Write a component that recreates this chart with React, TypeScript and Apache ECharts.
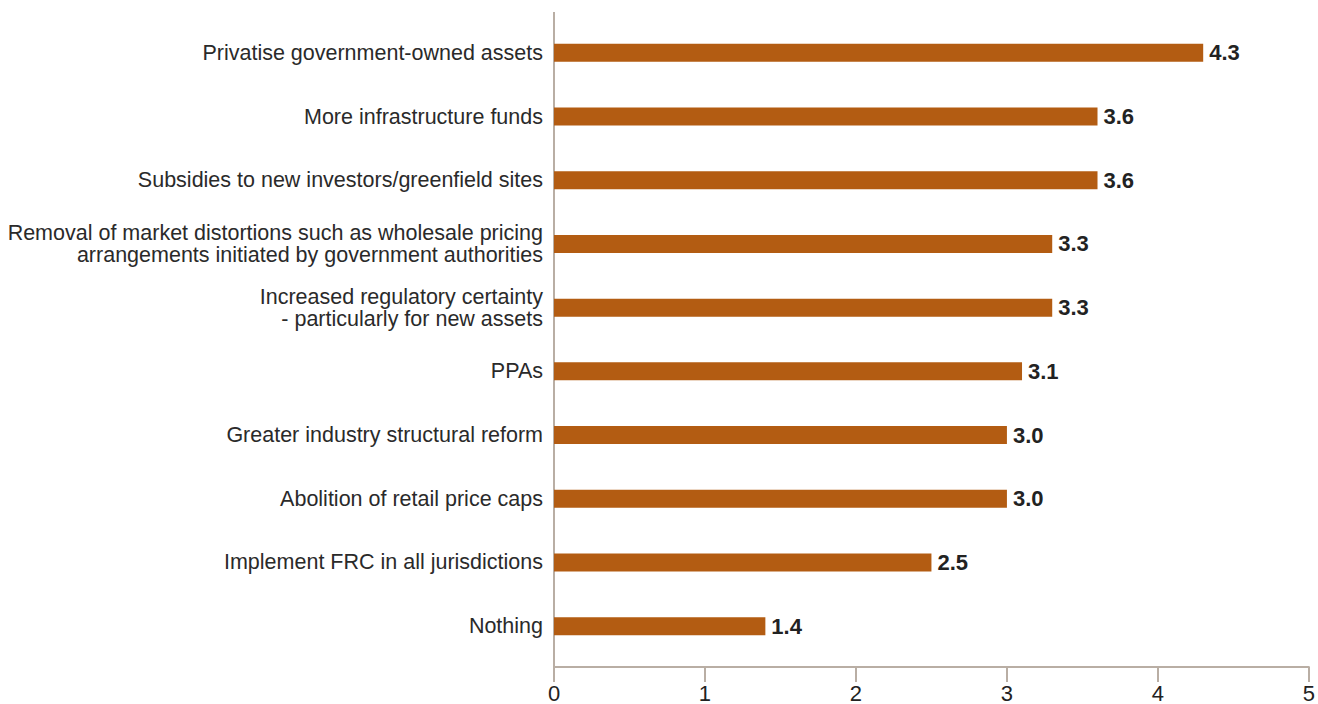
import React, { useEffect, useRef } from "react";
import * as echarts from "echarts";

const categories = [
  "Privatise government-owned assets",
  "More infrastructure funds",
  "Subsidies to new investors/greenfield sites",
  "Removal of market distortions such as wholesale pricing\narrangements initiated by government authorities",
  "Increased regulatory certainty\n- particularly for new assets",
  "PPAs",
  "Greater industry structural reform",
  "Abolition of retail price caps",
  "Implement FRC in all jurisdictions",
  "Nothing",
];
const values = [4.3, 3.6, 3.6, 3.3, 3.3, 3.1, 3.0, 3.0, 2.5, 1.4];
const xTicks = [0, 1, 2, 3, 4, 5];

const AXIS_COLOR = "#b9aea4";
const BAR_COLOR = "#b35c12";
const FONT = "'Liberation Sans', Arial, Helvetica, sans-serif";

export default function App() {
  const ref = useRef<HTMLDivElement>(null);
  useEffect(() => {
    if (!ref.current) return;
    const chart = echarts.init(ref.current, null, { renderer: "svg" });
    chart.setOption({
      animation: false,
      grid: { left: 554, right: 9, top: 21, bottom: 46 },
      xAxis: {
        type: "value",
        min: xTicks[0],
        max: xTicks[xTicks.length - 1],
        interval: 1,
        offset: 9,
        axisLine: { show: true, lineStyle: { color: AXIS_COLOR, width: 2 } },
        axisTick: { show: true, length: 15, lineStyle: { color: AXIS_COLOR, width: 2 } },
        axisLabel: { color: "#222", fontSize: 22, fontFamily: FONT, margin: 15 },
        splitLine: { show: false },
      },
      yAxis: {
        type: "category",
        inverse: true,
        data: categories,
        axisLine: { show: false },
        axisTick: { show: false },
        axisLabel: {
          color: "#2a2a2a",
          fontSize: 21.5,
          fontFamily: FONT,
          margin: 11,
          lineHeight: 22,
          align: "right",
        },
      },
      graphic: [
        {
          type: "line",
          shape: { x1: 554, y1: 12, x2: 554, y2: 667 },
          style: { stroke: AXIS_COLOR, lineWidth: 2 },
        },
      ],
      series: [
        {
          type: "bar",
          data: values,
          barWidth: 18,
          itemStyle: { color: BAR_COLOR },
          label: {
            show: true,
            position: "right",
            distance: 6,
            formatter: (p: any) => Number(p.value).toFixed(1),
            color: "#222",
            fontWeight: "bold",
            fontSize: 22,
            fontFamily: FONT,
          },
        },
      ],
    });
    return () => chart.dispose();
  }, []);
  return (
    <div
      ref={ref}
      style={{ width: 1318, height: 704, position: "absolute", left: 0, top: 0, overflow: "hidden" }}
    />
  );
}
